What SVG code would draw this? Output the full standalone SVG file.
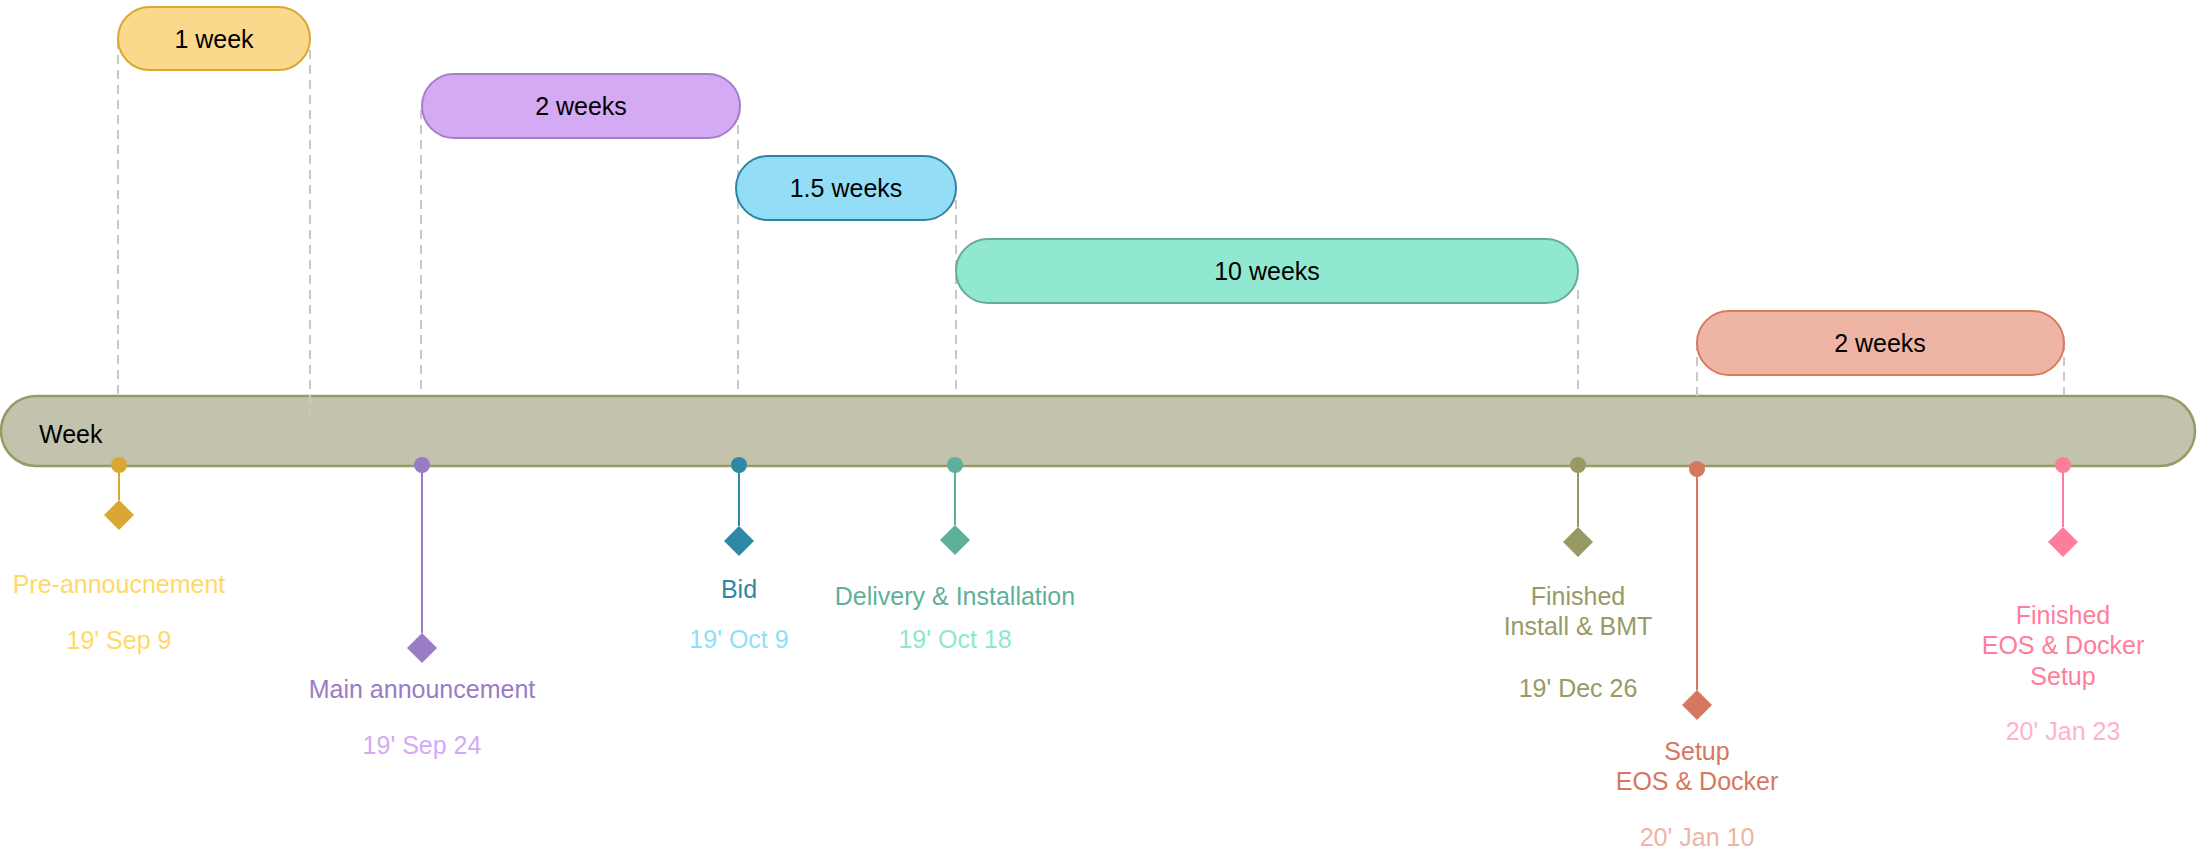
<svg xmlns="http://www.w3.org/2000/svg" width="2197" height="850" viewBox="0 0 2197 850">
<style>
text{font-family:"Liberation Sans",Arial,Helvetica,sans-serif;font-size:25px;text-anchor:middle}
.dash{stroke:#C8C8C8;stroke-width:2;stroke-dasharray:9 6;fill:none}
.stem{stroke-width:2;fill:none}
.box{stroke-width:2}
.lbl{fill:#000}
</style>
<rect width="2197" height="850" fill="#fff"/>
<g id="timeline">
<rect x="1" y="396" width="2194" height="70" rx="35" ry="35" fill="#C3C3AD" stroke="#999966" stroke-width="2.5"/>
<text x="39" y="443" style="text-anchor:start" class="lbl">Week</text>
</g>
<g id="connectors">
<line class="dash" x1="118" y1="40" x2="118" y2="396"/>
<line class="dash" x1="310" y1="50" x2="310" y2="417"/>
<line class="dash" x1="421" y1="110" x2="421" y2="390"/>
<line class="dash" x1="738" y1="110" x2="738" y2="395"/>
<line class="dash" x1="956" y1="200" x2="956" y2="395"/>
<line class="dash" x1="1578" y1="290" x2="1578" y2="395"/>
<line class="dash" x1="1697" y1="342" x2="1697" y2="404"/>
<line class="dash" x1="2064" y1="342" x2="2064" y2="395"/>
<line class="stem" stroke="#DAA832" x1="119" y1="465" x2="119" y2="500"/>
<line class="stem" stroke="#9A7BC6" x1="422" y1="465" x2="422" y2="633"/>
<line class="stem" stroke="#2F88A6" x1="739" y1="465" x2="739" y2="526"/>
<line class="stem" stroke="#5FB09A" x1="955" y1="465" x2="955" y2="525"/>
<line class="stem" stroke="#999966" x1="1578" y1="465" x2="1578" y2="527"/>
<line class="stem" stroke="#D6775F" x1="1697" y1="469" x2="1697" y2="690"/>
<line class="stem" stroke="#FF7D9C" x1="2063" y1="465" x2="2063" y2="527"/>
</g>
<g id="dur-1week">
<rect class="box" x="118" y="7" width="192" height="63" rx="31.5" fill="#FAD98C" stroke="#DAA832"/>
<text class="lbl" x="214" y="48">1 week</text>
</g>
<g id="dur-2weeks-a">
<rect class="box" x="422" y="74" width="318" height="64" rx="32" fill="#D4AAF4" stroke="#A37FC9"/>
<text class="lbl" x="581" y="115">2 weeks</text>
</g>
<g id="dur-1_5weeks">
<rect class="box" x="736" y="156" width="220" height="64" rx="32" fill="#93DEF6" stroke="#2E85A0"/>
<text class="lbl" x="846" y="197">1.5 weeks</text>
</g>
<g id="dur-10weeks">
<rect class="box" x="956" y="239" width="622" height="64" rx="32" fill="#90E8D0" stroke="#67AB9F"/>
<text class="lbl" x="1267" y="280">10 weeks</text>
</g>
<g id="dur-2weeks-b">
<rect class="box" x="1697" y="311" width="367" height="64" rx="32" fill="#EEB5A5" stroke="#D87A60"/>
<text class="lbl" x="1880" y="352">2 weeks</text>
</g>
<g id="ms-pre">
<circle cx="119" cy="465" r="8" fill="#DAA832"/>
<polygon points="119,500 134,515 119,530 104,515" fill="#DAA832"/>
<text x="119" y="593" fill="#FFD966">Pre-annoucnement</text>
<text x="119" y="649" fill="#FFD966">19' Sep 9</text>
</g>
<g id="ms-main">
<circle cx="422" cy="465" r="8" fill="#9A7BC6"/>
<polygon points="422,633 437,648 422,663 407,648" fill="#9A7BC6"/>
<text x="422" y="698" fill="#9A7BC6">Main announcement</text>
<text x="422" y="754" fill="#D4A9F6">19' Sep 24</text>
</g>
<g id="ms-bid">
<circle cx="739" cy="465" r="8" fill="#2F88A6"/>
<polygon points="739,526 754,541 739,556 724,541" fill="#2F88A6"/>
<text x="739" y="598" fill="#2F88A6">Bid</text>
<text x="739" y="648" fill="#8EDFF8">19' Oct 9</text>
</g>
<g id="ms-delivery">
<circle cx="955" cy="465" r="8" fill="#5FB09A"/>
<polygon points="955,525 970,540 955,555 940,540" fill="#5FB09A"/>
<text x="955" y="605" fill="#5FB09A">Delivery &amp; Installation</text>
<text x="955" y="648" fill="#8EE8D0">19' Oct 18</text>
</g>
<g id="ms-finished-install">
<circle cx="1578" cy="465" r="8" fill="#999966"/>
<polygon points="1578,527 1593,542 1578,557 1563,542" fill="#999966"/>
<text x="1578" y="605" fill="#999966">Finished</text>
<text x="1578" y="635" fill="#999966">Install &amp; BMT</text>
<text x="1578" y="697" fill="#999966">19' Dec 26</text>
</g>
<g id="ms-setup">
<circle cx="1697" cy="469" r="8" fill="#D6775F"/>
<polygon points="1697,690 1712,705 1697,720 1682,705" fill="#D6775F"/>
<text x="1697" y="760" fill="#D6775F">Setup</text>
<text x="1697" y="790" fill="#D6775F">EOS &amp; Docker</text>
<text x="1697" y="846" fill="#EDB5A5">20' Jan 10</text>
</g>
<g id="ms-finished-eos">
<circle cx="2063" cy="465" r="8" fill="#FF7D9C"/>
<polygon points="2063,527 2078,542 2063,557 2048,542" fill="#FF7D9C"/>
<text x="2063" y="624" fill="#FF7D9C">Finished</text>
<text x="2063" y="654" fill="#FF7D9C">EOS &amp; Docker</text>
<text x="2063" y="685" fill="#FF7D9C">Setup</text>
<text x="2063" y="740" fill="#FFB3C6">20' Jan 23</text>
</g>
</svg>
